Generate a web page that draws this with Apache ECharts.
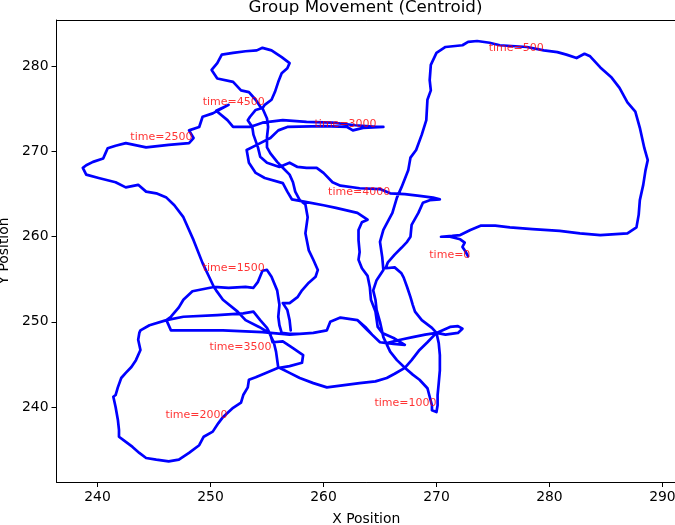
<!DOCTYPE html>
<html><head><meta charset="utf-8">
<script src="https://cdn.jsdelivr.net/npm/echarts@6/dist/echarts.min.js"></script>
<style>html,body{margin:0;padding:0;background:#fff}#c{width:675px;height:525px}</style>
</head><body><div id="c"></div>
<script>
// Trajectory of the group centroid, split by time ranges ([x, y] pairs)
const seg0to500 = [[272.8,257.7],[272.6,258.2],[272.3,258.8],[272.5,259.3],[272.1,259.7],[271.2,260.0],[270.4,260.0],[271.4,260.1],[272.1,260.2],[273.0,260.8],[273.9,261.3],[275.2,261.3],[276.5,261.1],[278.5,260.9],[280.9,260.7],[282.7,260.4],[284.5,260.2],[286.9,260.4],[287.7,261.1],[287.9,262.6],[288.0,264.3],[288.3,266.1],[288.5,267.8],[288.7,269.0],[288.4,270.4],[288.0,272.8],[287.6,274.7],[286.9,275.8],[286.2,277.5],[285.5,278.7],[284.5,279.9],[283.6,281.2],[283.1,281.5],[282.4,281.0],[281.5,281.4],[280.7,281.7],[279.5,281.9]];
const seg500to1000 = [[278.0,282.3],[275.6,282.5],[274.7,282.8],[273.6,283.0],[272.8,282.9],[272.3,282.5],[270.8,282.3],[270.0,281.6],[269.5,280.2],[269.4,278.4],[269.5,277.2],[269.2,276.1],[269.1,273.7],[268.7,272.0],[268.2,270.2],[267.7,269.3],[267.5,267.8],[266.9,265.8],[266.5,264.6],[266.1,262.8],[265.3,260.8],[265.0,259.4],[265.2,257.6],[265.3,256.1],[264.7,254.9],[264.4,253.7],[264.6,252.6],[264.7,251.4],[265.0,250.0],[265.3,248.2],[265.9,246.5],[266.5,245.5],[267.2,244.6],[267.9,243.8],[268.5,243.2],[269.2,242.2],[269.4,241.2],[269.6,240.2],[269.6,239.6],[270.0,239.4],[270.1,240.2],[270.1,241.4],[270.2,242.8],[270.3,244.3],[270.3,246.1],[270.2,247.5],[270.0,248.7]];
const seg1000to1500 = [[271.2,249.4],[271.9,249.5],[272.3,249.2],[271.9,248.7],[270.8,248.5],[270.0,248.7],[269.0,248.5],[267.9,248.2],[266.8,247.9],[265.6,247.5],[265.0,247.6],[264.3,248.5],[263.7,249.4],[263.0,250.2],[261.5,250.5],[260.6,250.0],[260.3,249.0],[259.1,248.7],[257.9,248.6],[257.0,248.6],[256.3,248.7],[256.1,249.6],[256.0,250.6],[256.1,252.0],[255.9,253.7],[255.4,255.3],[255.0,256.1],[254.6,256.0]];
const seg1500to2000 = [[254.2,254.7],[253.8,254.0],[253.1,254.1],[251.6,254.0],[250.3,254.1],[248.4,253.6],[247.6,252.6],[247.2,251.7],[246.5,250.6],[246.1,250.2],[244.6,249.6],[243.8,249.0],[243.7,248.7],[243.6,247.9],[243.8,246.7],[243.4,245.5],[243.0,244.7],[242.5,244.0],[242.1,243.4],[241.8,242.3],[241.6,241.4],[241.4,241.2],[241.6,240.0],[241.8,238.5],[241.9,237.3],[241.9,236.5],[242.3,236.1],[243.1,235.3],[243.7,234.6],[244.3,234.0],[245.2,233.8],[246.3,233.6],[247.2,233.8],[248.1,234.6],[249.0,235.5],[249.4,236.5],[250.2,237.1],[250.7,238.1],[251.1,238.8],[251.5,239.3]];
const seg2000to2500 = [[252.0,239.9],[252.7,240.5],[252.9,241.4],[253.3,242.3],[253.4,243.2],[254.0,243.5],[254.9,244.0],[256.0,244.6],[255.8,246.5],[255.6,247.6],[255.2,248.7],[254.3,249.4],[253.1,250.2],[252.4,251.2],[251.1,252.6],[250.5,253.7],[250.3,254.1],[249.8,255.5],[249.3,256.9],[248.5,259.6],[247.6,262.3],[246.8,263.7],[246.1,264.6],[245.2,265.1],[244.3,265.3],[243.6,266.1],[242.5,265.8],[241.6,266.4],[240.1,266.9],[239.0,267.3],[238.7,268.1],[239.0,268.4],[239.6,268.8],[240.5,269.2],[240.7,269.8],[240.9,270.4],[241.6,270.7],[242.5,271.0],[244.3,270.5],[246.3,270.8],[248.1,271.0],[248.5,271.6]];
const seg2500to3000 = [[248.1,272.5],[249.0,272.9],[249.3,274.1],[250.2,274.5],[251.6,275.5],[250.5,274.8],[251.5,273.7],[252.0,272.9],[253.5,272.9],[254.6,273.4],[256.4,273.7],[258.5,273.5],[260.8,273.4],[262.8,273.1],[264.7,272.9],[265.3,272.9],[263.5,272.8],[262.6,272.5],[262.1,272.9],[260.0,273.0],[256.8,272.9],[256.0,272.5],[255.3,271.6],[254.1,270.8],[253.2,270.2]];
const seg3000to3500 = [[253.4,268.7],[254.0,267.5],[254.8,266.9],[256.4,266.3],[256.8,265.3],[257.2,264.4],[258.4,264.1],[260.0,263.7],[261.1,263.4],[263.0,262.8],[263.9,262.0],[263.4,261.7],[263.1,260.8],[263.1,259.6],[263.2,258.2],[263.1,257.3],[263.4,256.3],[263.9,255.4],[264.1,254.1],[264.2,252.6],[264.6,251.2],[264.8,249.4],[265.2,248.7],[266.2,248.1],[267.2,247.3],[266.2,247.4],[265.0,247.6],[263.9,249.0],[263.0,250.2],[261.5,250.5],[260.6,250.0],[260.3,249.0],[259.1,248.7],[257.0,248.5],[254.6,248.8],[251.1,249.0],[248.1,249.0],[246.5,249.0],[246.1,250.2],[247.6,250.6],[250.6,250.8],[252.9,251.0],[253.8,251.2],[254.4,250.2],[255.0,249.3],[255.3,248.5],[255.5,247.6],[256.4,247.7],[257.3,246.9],[258.2,246.1],[258.1,245.2],[257.0,244.8],[256.1,244.6]];
const seg3500to4000 = [[257.0,244.0],[257.9,243.4],[259.1,242.8],[260.3,242.3],[261.5,242.5],[263.2,242.8],[264.6,243.0],[265.6,243.4],[266.3,243.9],[267.2,244.6],[267.8,245.5],[268.5,246.7],[269.2,247.6],[270.0,248.7],[269.6,249.3],[268.7,250.2],[268.1,251.2],[267.9,252.0],[267.7,252.9],[267.4,254.1],[267.1,255.2],[266.9,255.7],[266.3,256.4],[265.5,256.3],[265.7,257.0],[266.3,257.9],[266.9,258.7],[267.4,259.4],[267.7,260.0],[267.8,261.4],[268.4,262.8],[268.8,264.0],[269.4,264.3],[270.3,264.4],[269.7,264.6],[268.5,264.8],[267.2,265.0],[265.9,265.1]];
const seg4000to4500 = [[265.0,265.6],[263.2,265.7],[261.5,266.0],[260.8,266.4],[260.0,267.5],[259.4,268.1],[258.5,268.1],[257.7,268.2],[257.0,268.7],[256.1,268.2],[255.0,268.7],[254.4,269.4],[254.2,270.5],[253.8,272.0],[253.7,272.9],[253.3,273.7],[253.5,274.1],[254.0,274.9],[254.5,275.1],[254.0,276.1],[253.4,277.0],[252.7,277.2],[252.0,278.2],[250.6,278.6],[250.1,279.6],[250.6,280.4],[251.0,281.4],[252.0,281.6],[253.1,281.8],[254.1,281.9],[254.6,282.2],[255.4,281.9],[256.3,281.1],[257.0,280.4],[256.8,279.8],[256.3,279.2],[256.0,278.2],[255.7,277.0],[255.4,276.1],[254.8,275.5]];
const seg4500toEnd = [[254.6,275.1],[255.0,273.9],[255.1,272.9],[255.0,271.7],[255.0,270.5],[255.3,269.8],[255.9,268.8],[256.4,268.1],[257.0,267.3],[257.3,266.4],[257.5,265.3],[257.9,264.3],[258.4,263.8],[258.6,262.3],[258.4,260.4],[258.7,258.4],[259.1,257.3],[259.5,256.1],[259.3,255.3],[258.7,254.6],[258.1,253.7],[257.7,252.9],[257.0,252.2],[256.4,252.2],[256.8,251.4],[257.0,250.2],[257.1,249.0]];

// Time markers
const labelTimes = [0, 500, 1000, 1500, 2000, 2500, 3000, 3500, 4000, 4500];
const labelX = [273.0, 279.5, 270.0, 254.8, 251.5, 248.4, 264.7, 255.4, 265.9, 254.8];
const labelY = [257.6, 281.9, 240.1, 256.0, 238.7, 271.4, 272.9, 246.7, 265.0, 275.5];

// Axis ticks
const xTicks = [240, 250, 260, 270, 280, 290];
const yTicks = [240, 250, 260, 270, 280];

const path = [].concat(seg0to500, seg500to1000, seg1000to1500, seg1500to2000,
  seg2000to2500, seg2500to3000, seg3000to3500, seg3500to4000, seg4000to4500, seg4500toEnd);
const labelData = labelTimes.map((t, i) => ({ value: [labelX[i], labelY[i]], name: 'time=' + t }));

const FONT = 'DejaVu Sans';
const chart = echarts.init(document.getElementById('c'), null, { renderer: 'canvas' });
chart.setOption({
  animation: false,
  backgroundColor: '#ffffff',
  textStyle: { fontFamily: FONT },
  title: {
    text: 'Group Movement (Centroid)',
    left: 365.5, top: -1, textAlign: 'center', padding: 0,
    textStyle: { fontFamily: FONT, fontSize: 16.7, fontWeight: 'normal', color: '#000' }
  },
  grid: { left: 56.5, right: -1, top: 20, bottom: 43, containLabel: false, outerBoundsMode: 'none', show: false },
  xAxis: [{
    type: 'value', min: 236.37, max: 291.2, position: 'bottom',
    name: 'X Position', nameLocation: 'middle', nameGap: 30,
    nameTextStyle: { fontFamily: FONT, fontSize: 13.9, color: '#000' },
    axisLine: { show: true, onZero: false, lineStyle: { color: '#000', width: 1 } },
    axisTick: { show: true, customValues: xTicks, length: 5, inside: false, lineStyle: { color: '#000', width: 1 } },
    axisLabel: { customValues: xTicks, margin: 8, fontFamily: FONT, fontSize: 13.9, color: '#000' },
    splitLine: { show: false }
  }, {
    type: 'value', min: 236.37, max: 291.2, position: 'top',
    axisLine: { show: true, onZero: false, lineStyle: { color: '#000', width: 1 } },
    axisTick: { show: false }, axisLabel: { show: false }, splitLine: { show: false }
  }],
  yAxis: [{
    type: 'value', min: 231.18, max: 285.47, position: 'left',
    name: 'Y Position', nameLocation: 'middle', nameGap: 40, nameRotate: 90,
    nameTextStyle: { fontFamily: FONT, fontSize: 13.9, color: '#000' },
    axisLine: { show: true, onZero: false, lineStyle: { color: '#000', width: 1 } },
    axisTick: { show: true, customValues: yTicks, length: 5, inside: false, lineStyle: { color: '#000', width: 1 } },
    axisLabel: { customValues: yTicks, margin: 8, fontFamily: FONT, fontSize: 13.9, color: '#000' },
    splitLine: { show: false }
  }],
  series: [{
    type: 'line',
    data: path,
    showSymbol: false,
    symbol: 'none',
    clip: true,
    lineStyle: { color: '#0000ff', width: 2.7, join: 'round', cap: 'round' },
    z: 2
  }, {
    type: 'scatter',
    data: labelData,
    symbolSize: 0,
    silent: true,
    label: {
      show: true,
      formatter: p => p.name,
      position: 'left', distance: 0,
      align: 'right', verticalAlign: 'bottom', offset: [0, 3],
      color: '#ff0000', fontFamily: FONT, fontSize: 11
    },
    z: 5
  }]
});
</script>
</body></html>
